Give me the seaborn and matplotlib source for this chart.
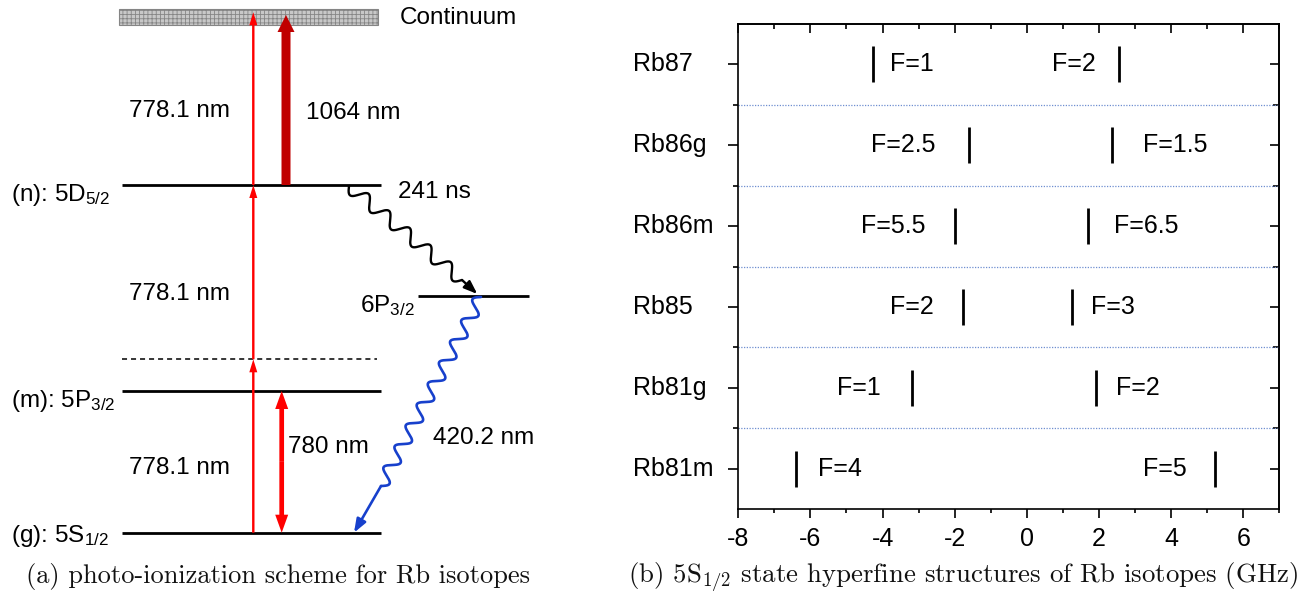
import numpy as np
import pandas as pd
import matplotlib
matplotlib.use("Agg")
import matplotlib.pyplot as plt
import seaborn as sns
from matplotlib.patches import Rectangle
from matplotlib.ticker import MultipleLocator, FixedLocator

# ---------------- hyperfine data (GHz) ----------------
isotopes = ["Rb87", "Rb86g", "Rb86m", "Rb85", "Rb81g", "Rb81m"]
lower_F = ["F=1", "F=2.5", "F=5.5", "F=2", "F=1", "F=4"]
lower_shift = [-4.27, -1.59, -1.98, -1.77, -3.19, -6.39]
upper_F = ["F=2", "F=1.5", "F=6.5", "F=3", "F=2", "F=5"]
upper_shift = [2.56, 2.37, 1.70, 1.26, 1.93, 5.22]
x_ticks = [-8, -6, -4, -2, 0, 2, 4, 6]

# label placement: side of the bar (+1 right, -1 left) and gap in pixels
lower_side = [1, -1, -1, -1, -1, 1]
upper_side = [-1, 1, 1, 1, 1, -1]
lower_gap = [17, 34, 30, 29, 31, 22]
upper_gap = [23, 31, 26, 19, 20, 28]

# ---------------- level scheme (drawing units = pixels) ----------------
level_names = ["(g): 5S$_{1/2}$", "(m): 5P$_{3/2}$", "(n): 5D$_{5/2}$"]
level_y = [532.7, 391.0, 185.0]
level_label_base = [541.7, 407.3, 200.7]
virtual_y = 359.3
p6_y = 295.7
continuum_box = (119.3, 9.0, 258.4, 16.0)

sns.set_style("ticks")
plt.rcParams["font.family"] = ["Liberation Sans", "DejaVu Sans"]
plt.rcParams["mathtext.fontset"] = "custom"
plt.rcParams["mathtext.rm"] = "Liberation Sans"
plt.rcParams["mathtext.it"] = "Liberation Sans:italic"
plt.rcParams["mathtext.bf"] = "Liberation Sans:bold"
plt.rcParams["axes.unicode_minus"] = False
plt.rcParams["axes.edgecolor"] = "black"
plt.rcParams["axes.linewidth"] = 1.2
plt.rcParams["hatch.linewidth"] = 0.6
plt.rcParams["text.color"] = "black"
plt.rcParams["axes.labelcolor"] = "black"
plt.rcParams["xtick.color"] = "black"
plt.rcParams["ytick.color"] = "black"
plt.rcParams["xtick.labelcolor"] = "black"
plt.rcParams["ytick.labelcolor"] = "black"

W, H = 1301, 596
fig = plt.figure(figsize=(W / 100, H / 100), dpi=100)

# ======================= (a) level scheme =======================
axL = fig.add_axes([0, 0, 600 / W, 1])
axL.set_xlim(0, 600)
axL.set_ylim(H, 0)
axL.axis("off")

x0, y0, bw, bh = continuum_box
axL.add_patch(Rectangle((x0, y0), bw, bh, facecolor="#c8c8c8",
                        edgecolor="#858585", hatch="++++", lw=0.8, zorder=1))
axL.text(400, 24.3, "Continuum", fontsize=17.5, va="baseline", ha="left")

for y, name, base in zip(level_y, level_names, level_label_base):
    axL.plot([121.7, 381], [y, y], color="black", lw=2.0,
             solid_capstyle="butt", zorder=2)
    axL.text(11, base, name, fontsize=17.5, va="baseline", ha="left")

axL.plot([121.7, 376.7], [virtual_y, virtual_y], color="black", lw=1.1,
         ls=(0, (3.3, 2.6)), zorder=2)
axL.plot([418.3, 529.3], [p6_y, p6_y], color="black", lw=2.0,
         solid_capstyle="butt", zorder=2)
axL.text(360, 311.7, "6P$_{3/2}$", fontsize=17.5, va="baseline", ha="left")

# two-photon excitation 778.1 nm plus ionising step
x_thin = 253.3
for ya, yb in [(level_y[0], virtual_y), (virtual_y, level_y[2]), (level_y[2], 12.3)]:
    axL.arrow(x_thin, ya, 0, yb - ya, width=2.4, head_width=8, head_length=13,
              length_includes_head=True, color="#ff0000", lw=0, zorder=4)

# 1064 nm ionisation
axL.arrow(286, level_y[2], 0, 15 - level_y[2], width=9, head_width=17,
          head_length=17, length_includes_head=True, color="#c00000", lw=0, zorder=4)

# 780 nm double arrow between g and m
mid = 0.5 * (level_y[0] + level_y[1])
for yt in (level_y[1], level_y[0]):
    axL.arrow(281.7, mid, 0, yt - mid, width=4.7, head_width=13, head_length=18,
              length_includes_head=True, color="#ff0000", lw=0, zorder=4)


def wavy(ax, p0, p1, n_periods, amp, **kw):
    p0 = np.asarray(p0, float)
    p1 = np.asarray(p1, float)
    d = p1 - p0
    L = np.hypot(*d)
    u = d / L
    nv = np.array([-u[1], u[0]])
    t = np.linspace(0, 1, 800)
    off = amp * np.sin(2 * np.pi * n_periods * t)
    pts = p0[None, :] + t[:, None] * d[None, :] + off[:, None] * nv[None, :]
    ax.plot(pts[:, 0], pts[:, 1], **kw)


# 5D -> 6P decay
wavy(axL, (349, 186), (462, 280), 5.5, 6.5, color="black", lw=1.7, zorder=3)
axL.annotate("", xy=(477.3, 294), xytext=(462, 280),
             arrowprops=dict(arrowstyle="-|>,head_length=0.8,head_width=0.3",
                             color="black", lw=1.7, shrinkA=0, shrinkB=0,
                             mutation_scale=10), zorder=3)
axL.text(398.3, 197.5, "241 ns", fontsize=17.5, va="baseline", ha="left")

# 6P -> 5S decay
blue = "#1740cc"
wavy(axL, (481, 297), (381, 486), 9, 6.5, color=blue, lw=1.9, zorder=3)
axL.annotate("", xy=(354, 532.7), xytext=(381, 486),
             arrowprops=dict(arrowstyle="-|>,head_length=0.8,head_width=0.3",
                             color=blue, lw=1.9, shrinkA=0, shrinkB=0,
                             mutation_scale=10), zorder=3)
axL.text(433.3, 444.3, "420.2 nm", fontsize=17.5, va="baseline", ha="left")

for xx, base, s in [(129.3, 116.7, "778.1 nm"), (306, 119, "1064 nm"),
                    (129.3, 300, "778.1 nm"), (129.3, 474.3, "778.1 nm"),
                    (288.3, 452.7, "780 nm")]:
    axL.text(xx, base, s, fontsize=17.5, va="baseline", ha="left")

# ======================= (b) hyperfine structure =======================
axR = fig.add_axes([738.3 / W, 1 - 509 / H, (1279.3 - 738.3) / W, (509 - 24) / H])
rows = list(range(len(isotopes) - 1, -1, -1))
df = pd.DataFrame({
    "isotope": isotopes * 2,
    "row": rows * 2,
    "shift": lower_shift + upper_shift,
    "F": lower_F + upper_F,
    "side": lower_side + upper_side,
    "gap": lower_gap + upper_gap,
})
sns.scatterplot(data=df, x="shift", y="row", marker="|", s=650, linewidth=2.0,
                color="black", ax=axR, legend=False, zorder=3)
for _, r in df.iterrows():
    axR.annotate(r["F"], xy=(r["shift"], r["row"]),
                 xytext=(r["side"] * r["gap"] * 0.72, 0), textcoords="offset points",
                 ha="left" if r["side"] > 0 else "right", va="center", fontsize=18)

seps = [k + 0.5 for k in range(len(isotopes) - 1)]
for s in seps:
    axR.axhline(s, color="#6f8fd0", lw=0.9, ls=(0, (1, 1.2)), zorder=1)

axR.set_xlim(-8, 7)
axR.set_ylim(-0.5, len(isotopes) - 0.5)
axR.set_xlabel("")
axR.set_ylabel("")
axR.set_xticks(x_ticks)
axR.xaxis.set_minor_locator(MultipleLocator(1))
axR.tick_params(axis="x", which="major", direction="out", length=6.7, width=1.2,
                labelsize=18, pad=6.0, top=False)
axR.tick_params(axis="x", which="minor", direction="out", length=3.0, width=1.2, top=False)
axR.set_yticks(rows)
axR.set_yticklabels(isotopes)
axR.yaxis.set_minor_locator(FixedLocator(seps))
axR.tick_params(axis="y", which="major", direction="out", length=7.2, width=1.2,
                labelsize=18, pad=68.6, right=False)
axR.tick_params(axis="y", which="minor", direction="out", length=3.6, width=1.2, right=False)
for lbl in axR.get_yticklabels():
    lbl.set_ha("left")
    lbl.set_va("center")
for sp in axR.spines.values():
    sp.set_visible(True)
    sp.set_color("black")
    sp.set_linewidth(1.2)

sec_x = axR.secondary_xaxis("top")
sec_x.set_xticks(x_ticks)
sec_x.xaxis.set_minor_locator(MultipleLocator(1))
sec_x.tick_params(which="major", direction="in", length=6.7, width=1.2,
                  labeltop=False, labelbottom=False)
sec_x.tick_params(which="minor", direction="in", length=3.6, width=1.2)

sec_y = axR.secondary_yaxis("right")
sec_y.set_yticks(rows)
sec_y.yaxis.set_minor_locator(FixedLocator(seps))
sec_y.tick_params(which="major", direction="in", length=6.7, width=1.2,
                  labelright=False, labelleft=False)
sec_y.tick_params(which="minor", direction="in", length=4.3, width=1.2)

# ======================= captions =======================
fig.text(278 / W, 1 - 577 / H, "(a) photo-ionization scheme for Rb isotopes",
         ha="center", va="center", fontsize=19, fontfamily="cmr10",
         math_fontfamily="cm", color="#111111")
fig.text(963 / W, 1 - 577 / H,
         "(b) 5S$_{1/2}$ state hyperfine structures of Rb isotopes (GHz)",
         ha="center", va="center", fontsize=19.3, fontfamily="cmr10",
         math_fontfamily="cm", color="#111111")

fig.savefig("out.png", dpi=100)
